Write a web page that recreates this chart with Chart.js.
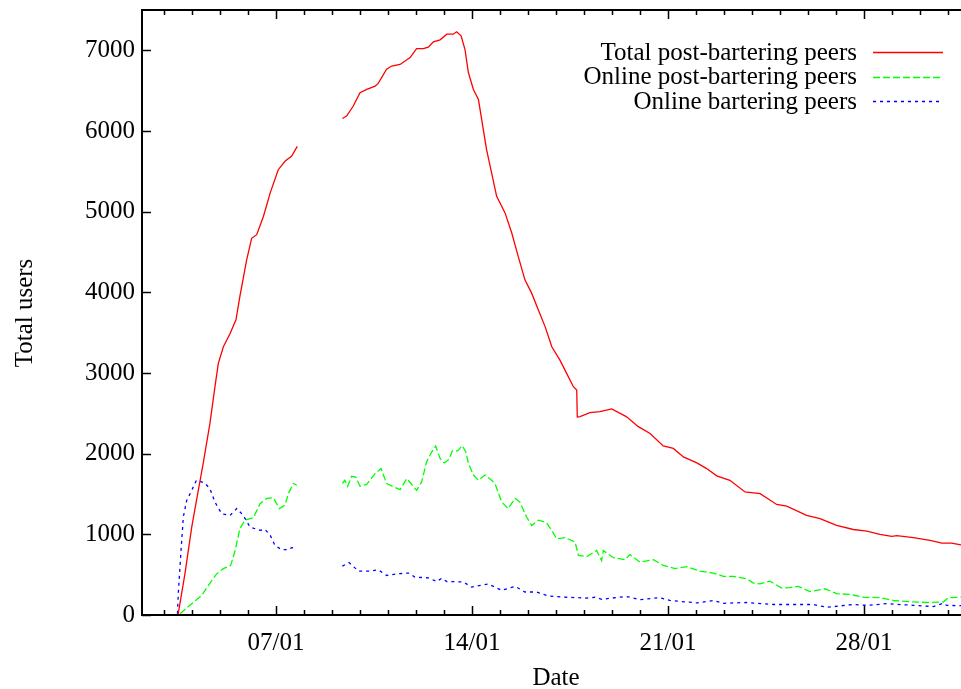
<!DOCTYPE html>
<html>
<head>
<meta charset="utf-8">
<script src="https://cdn.jsdelivr.net/npm/chart.js@4.4.1/dist/chart.umd.min.js"></script>
<style>
    html, body { margin: 0; padding: 0; background: #fff; overflow: hidden; }
    #wrap { width: 1000px; height: 689px; position: relative; }
</style>
</head>
<body>
<div id="wrap"><canvas id="peers"></canvas></div>
<script>
// days of January
const totalDays = [3.5, 3.75, 3.99, 4.16, 4.4, 4.64, 4.82, 4.94, 5.12, 5.36, 5.57, 5.71, 5.95, 6.13, 6.31, 6.55, 6.79, 7.08, 7.32, 7.56, 7.76,
    8.5,
    9.37, 9.52, 9.76, 10.0, 10.24, 10.54, 10.65, 10.95, 11.13, 11.43, 11.79, 12.02, 12.26, 12.44, 12.62, 12.86, 13.1, 13.33, 13.45, 13.61,
    13.75, 13.87, 14.05, 14.23, 14.52, 14.7, 14.88, 15.18, 15.42, 15.65, 15.89, 16.13, 16.37, 16.61, 16.85, 17.14, 17.38, 17.62, 17.74,
    17.76, 17.86, 18.21, 18.57, 18.99, 19.51, 19.94, 20.36, 20.83, 21.19, 21.55, 22.03, 22.38, 22.74, 23.21, 23.75, 24.29, 24.88, 25.24,
    25.95, 26.43, 27.02, 27.62, 28.1, 28.57, 28.99, 29.17, 29.76, 30.36, 30.78, 31.13, 31.46, 31.7];
const totalUsers = [0, 517, 1090, 1420, 1880, 2375, 2830, 3120, 3325, 3490, 3660, 3950, 4400, 4670, 4715, 4940, 5230, 5520, 5625, 5690, 5810,
    null,
    6155, 6185, 6310, 6475, 6515, 6555, 6590, 6765, 6805, 6825, 6910, 7020, 7020, 7040, 7105, 7130, 7200, 7200, 7230, 7180,
    7010, 6725, 6515, 6390, 5770, 5480, 5190, 4985, 4735, 4445, 4155, 3990, 3780, 3575, 3325, 3160, 2995, 2830, 2790,
    2455, 2460, 2510, 2520, 2555, 2460, 2335, 2250, 2095, 2065, 1960, 1885, 1815, 1725, 1670, 1525, 1505, 1370, 1350,
    1235, 1195, 1110, 1060, 1040, 1000, 975, 985, 960, 925, 890, 890, 870, 860];

const onlineDays = [3.57, 3.99, 4.34, 4.58, 4.88, 5.12, 5.38, 5.54, 5.71, 5.89, 6.19, 6.43, 6.67, 6.9, 7.12, 7.32, 7.44, 7.62, 7.74,
    8.5,
    9.37, 9.46, 9.56, 9.7, 9.85, 10.0, 10.24, 10.54, 10.75, 10.95, 11.19, 11.43, 11.67, 11.82, 12.02, 12.2, 12.38, 12.56, 12.7, 12.86,
    13.01, 13.18, 13.3, 13.49, 13.65, 13.78, 13.87, 14.05, 14.23, 14.46, 14.7, 14.82, 15.06, 15.29, 15.54, 15.71, 15.95, 16.13, 16.37,
    16.64, 16.85, 17.02, 17.32, 17.68, 17.8, 18.1, 18.45, 18.63, 18.69, 19.05, 19.46, 19.64, 20.0, 20.48, 20.83, 21.25, 21.67, 22.14,
    22.62, 22.98, 23.33, 23.81, 24.05, 24.29, 24.64, 25.06, 25.36, 25.65, 26.07, 26.61, 27.02, 27.5, 27.98, 28.57, 29.05, 29.64, 30.24,
    30.83, 31.01, 31.43, 31.7];
const onlineUsers = [15, 140, 240, 365, 510, 575, 615, 800, 1070, 1175, 1205, 1380, 1445, 1455, 1320, 1360, 1505, 1630, 1610,
    null,
    1630, 1670, 1595, 1720, 1710, 1595, 1620, 1755, 1815, 1630, 1590, 1555, 1690, 1630, 1545, 1650, 1900, 2020, 2095, 1940,
    1885, 1930, 2035, 2035, 2100, 2020, 1880, 1735, 1670, 1735, 1670, 1630, 1400, 1320, 1445, 1400, 1215, 1110, 1175,
    1150, 1050, 945, 960, 905, 740, 725, 800, 675, 800, 710, 685, 750, 655, 685, 615, 575, 600, 545,
    520, 480, 480, 450, 395, 385, 420, 335, 340, 355, 290, 325, 265, 255, 220, 215, 180, 165, 155,
    160, 215, 220, 230];

const barterDays = [3.48, 3.51, 3.6, 3.69, 3.81, 3.99, 4.16, 4.46, 4.64, 4.82, 5.06, 5.36, 5.6, 5.83, 6.07, 6.43, 6.61, 6.79, 6.96, 7.2,
    7.44, 7.56, 7.74,
    8.5,
    9.37, 9.61, 9.94, 10.36, 10.65, 10.95, 11.31, 11.73, 11.96, 12.44, 12.74, 12.92, 13.1, 13.69, 13.99, 14.25, 14.58, 15.06, 15.54,
    15.89, 16.31, 16.73, 17.39, 18.1, 18.39, 18.63, 19.51, 20.0, 20.71, 21.07, 22.03, 22.62, 22.98, 23.81, 24.76, 26.19, 26.67, 27.62,
    28.1, 28.81, 29.76, 30.48, 30.83, 30.95, 31.43, 31.7];
const barterUsers = [15, 265, 760, 1215, 1420, 1545, 1670, 1635, 1565, 1400, 1255, 1235, 1320, 1235, 1090, 1050, 1060, 990, 865, 810,
    810, 835, 820,
    null,
    605, 650, 545, 545, 560, 490, 510, 520, 470, 460, 415, 455, 415, 410, 345, 365, 385, 305, 355,
    285, 285, 235, 220, 210, 220, 195, 230, 190, 215, 180, 150, 180, 145, 155, 130, 130, 95, 130,
    120, 140, 120, 105, 145, 120, 115, 110];

const seriesLabels = ['Total post-bartering peers', 'Online post-bartering peers', 'Online bartering peers'];
const dayTicks = [3, 4, 5, 6, 7, 8, 9, 10, 11, 12, 13, 14, 15, 16, 17, 18, 19, 20, 21, 22, 23, 24, 25, 26, 27, 28, 29, 30, 31, 32];
const dayLabels = { 7: '07/01', 14: '14/01', 21: '21/01', 28: '28/01' };
const userTicks = [0, 1000, 2000, 3000, 4000, 5000, 6000, 7000];

const FONT = '"Liberation Serif", "Times New Roman", serif';

function toPoints(xs, ys) {
    return xs.map((x, i) => ({ x: x, y: ys[i] }));
}

// gnuplot style frame: inward ticks, legend on the right, axis titles
const gnuplotFrame = {
    id: 'gnuplotFrame',
    afterDraw(chart) {
        const ctx = chart.ctx;
        const a = chart.chartArea;
        const xs = chart.scales.x;
        const ys = chart.scales.y;
        ctx.save();
        ctx.strokeStyle = '#000';
        ctx.lineWidth = 2;
        ctx.beginPath();
        ctx.moveTo(a.right + 5, a.top);
        ctx.lineTo(a.left, a.top);
        ctx.lineTo(a.left, a.bottom);
        ctx.lineTo(a.right + 5, a.bottom);
        ctx.stroke();

        ctx.lineWidth = 1.5;
        ctx.beginPath();
        dayTicks.forEach(d => {
            const px = Math.round(xs.getPixelForValue(d)) + 0.5;
            const len = d % 7 === 0 ? 9 : 5;
            ctx.moveTo(px, a.bottom);
            ctx.lineTo(px, a.bottom - len);
            ctx.moveTo(px, a.top);
            ctx.lineTo(px, a.top + len);
        });
        userTicks.forEach(v => {
            const py = Math.round(ys.getPixelForValue(v)) + 0.5;
            ctx.moveTo(a.left, py);
            ctx.lineTo(a.left + 9, py);
        });
        ctx.stroke();

        // legend
        ctx.font = '25px ' + FONT;
        ctx.fillStyle = '#000';
        ctx.textAlign = 'right';
        ctx.textBaseline = 'middle';
        chart.data.datasets.forEach((ds, i) => {
            const y = 52 + i * 24.7;
            ctx.fillText(ds.label, 857, y + 1);
            ctx.strokeStyle = ds.borderColor;
            ctx.lineWidth = ds.borderWidth;
            ctx.setLineDash(ds.borderDash || []);
            ctx.beginPath();
            ctx.moveTo(873, Math.round(y) + 0.5);
            ctx.lineTo(943, Math.round(y) + 0.5);
            ctx.stroke();
        });
        ctx.setLineDash([]);

        // axis titles
        ctx.textAlign = 'center';
        ctx.fillText('Date', 556, 678);
        ctx.translate(25, 313);
        ctx.rotate(-Math.PI / 2);
        ctx.fillText('Total users', 0, 0);
        ctx.restore();
    }
};

new Chart(document.getElementById('peers'), {
    type: 'line',
    data: {
        datasets: [{
            label: seriesLabels[0],
            data: toPoints(totalDays, totalUsers),
            borderColor: '#ff0000',
            borderWidth: 1.3,
            pointRadius: 0,
            spanGaps: false
        }, {
            label: seriesLabels[1],
            data: toPoints(onlineDays, onlineUsers),
            borderColor: '#00ff00',
            borderWidth: 1.3,
            borderDash: [7, 3],
            pointRadius: 0,
            spanGaps: false
        }, {
            label: seriesLabels[2],
            data: toPoints(barterDays, barterUsers),
            borderColor: '#0000ff',
            borderWidth: 1.3,
            borderDash: [3, 4],
            pointRadius: 0,
            spanGaps: false
        }]
    },
    options: {
        responsive: true,
        maintainAspectRatio: false,
        animation: false,
        layout: { padding: { top: 10, right: 0, left: 0, bottom: 0 } },
        plugins: { legend: { display: false }, tooltip: { enabled: false } },
        scales: {
            x: {
                type: 'linear',
                min: 2.214,
                max: 32.857,
                afterBuildTicks: s => { s.ticks = dayTicks.map(v => ({ value: v })); },
                afterFit: s => { s.height = 74; s.paddingLeft = 0; s.paddingRight = 0; },
                grid: { display: false, drawTicks: false },
                border: { display: false },
                ticks: {
                    autoSkip: false,
                    maxRotation: 0,
                    padding: 13,
                    color: '#000',
                    font: { family: FONT, size: 25 },
                    callback: v => dayLabels[v] || ''
                }
            },
            y: {
                min: 0,
                max: 7500,
                afterBuildTicks: s => { s.ticks = userTicks.map(v => ({ value: v })); },
                afterFit: s => { s.width = 142; s.paddingTop = 0; s.paddingBottom = 0; },
                grid: { display: false, drawTicks: false },
                border: { display: false },
                ticks: {
                    padding: 7,
                    color: '#000',
                    font: { family: FONT, size: 25 },
                    callback: v => String(v)
                }
            }
        }
    },
    plugins: [gnuplotFrame]
});
</script>
</body>
</html>
